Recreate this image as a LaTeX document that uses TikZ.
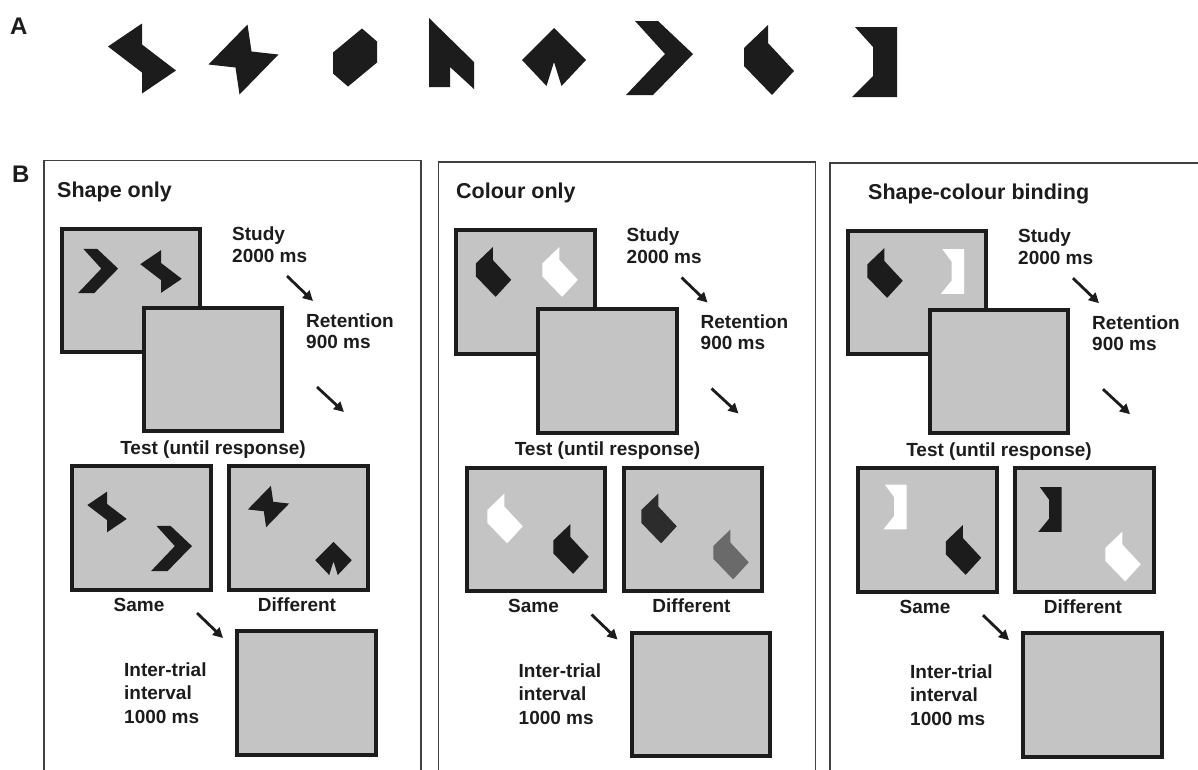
\documentclass[tikz,border=0pt]{standalone}
\usepackage{fontspec}
\setmainfont{Liberation Sans}
\usetikzlibrary{arrows.meta}
\definecolor{ink}{HTML}{1C1C1C}
\definecolor{scr}{HTML}{C4C4C4}
\definecolor{framec}{HTML}{404040}
\definecolor{midg}{HTML}{6A6A6A}
\definecolor{darkg}{HTML}{2C2C2C}
\tikzset{
  screen/.style={draw=ink, fill=scr, line width=4pt, minimum width=138.5pt, minimum height=123.5pt, inner sep=0pt},
  lbl/.style={font=\bfseries\fontsize{19}{23}\selectfont, text=ink, inner sep=0pt},
  ttl/.style={font=\bfseries\fontsize{21.5}{25}\selectfont, text=ink, inner sep=0pt},
  biglbl/.style={font=\bfseries\fontsize{24}{28}\selectfont, text=ink, inner sep=0pt},
  flow/.style={draw=ink, line width=2.8pt, -{Triangle[length=10pt,width=10pt]}},
  panelframe/.style={draw=framec, line width=1.6pt},
  pics/shpA/.style={code={\fill[#1] (-34,-12)--(0,-35)--(0,-14)--(34,12)--(0,35)--(0,14)--cycle;}},
  pics/shpB/.style={code={\fill[#1] (4,-35)--(8,-8)--(35,-5)--(-4,35)--(-8,8)--(-35,5)--cycle;}},
  pics/shpC/.style={code={\fill[#1] (7,-29)--(22,-16)--(22,5)--(-7,29)--(-22,16)--(-22,-5)--cycle;}},
  pics/shpD/.style={code={\fill[#1] (-22.5,-35.5)--(22.5,8.5)--(22.5,35.5)--(-1.5,13.5)--(-1.5,33.5)--(-22.5,33.5)--cycle;}},
  pics/shpE/.style={code={\fill[#1] (0,-29)--(32,3)--(7.5,29)--(0,5)--(-7.5,29)--(-32,3)--cycle;}},
  pics/shpF/.style={code={\fill[#1] (-24.5,-37)--(-1.5,-37)--(33.5,-4)--(-6.5,37)--(-33.5,37)--(5.5,-4)--cycle;}},
  pics/shpG/.style={code={\fill[#1] (-1,-35)--(-1,-17)--(25,11)--(3,35)--(-25,6)--(-25,-12)--cycle;}},
  pics/shpH/.style={code={\fill[#1] (-19.5,-35)--(22.5,-35)--(22.5,35)--(-22.5,35)--(-1.5,14)--(-1.5,-15)--cycle;}},
}
\newcommand\trialpanel[5]{%
\begin{scope}[shift={(#2,#3)}]
  \draw[panelframe] (44,800) -- (44,160.5) -- (421,160.5) -- (421,800);
  \node[ttl, anchor=base west] (#1title) at (#4,197) {#5};
  \node[screen] (#1study) at (131,290.5) {};
  \node[screen] (#1ret) at (213,369.5) {};
  \node[screen] (#1same) at (141.5,528) {};
  \node[screen] (#1diff) at (298.5,528) {};
  \node[screen] (#1iti) at (306.5,693) {};
  \node[lbl, anchor=base west] (#1sta) at (232,240) {Study};
  \node[lbl, anchor=base west] (#1stb) at (232,262) {2000 ms};
  \node[lbl, anchor=base west] (#1rea) at (306,327) {Retention};
  \node[lbl, anchor=base west] (#1reb) at (306,348) {900 ms};
  \node[lbl, anchor=base] (#1test) at (213,454) {Test (until response)};
  \node[lbl, anchor=base] (#1samel) at (139,611) {Same};
  \node[lbl, anchor=base] (#1diffl) at (297,611) {Different};
  \node[lbl, anchor=base west] (#1ita) at (124,676) {Inter-trial};
  \node[lbl, anchor=base west] (#1itb) at (124,699) {interval};
  \node[lbl, anchor=base west] (#1itc) at (124,723) {1000 ms};
  \coordinate (#1aas) at (287,276);  \coordinate (#1aae) at (313,301);
  \coordinate (#1abs) at (317,387);  \coordinate (#1abe) at (344,412);
  \coordinate (#1acs) at (197,613);  \coordinate (#1ace) at (223,638);
  \draw[flow] (#1aas) -- (#1aae);
  \draw[flow] (#1abs) -- (#1abe);
  \draw[flow] (#1acs) -- (#1ace);
\end{scope}}
\begin{document}
\begin{tikzpicture}[x=1pt,y=-1pt]
\useasboundingbox (0,0) rectangle (1198,769);
\clip (0,0) rectangle (1198,769);
\fill[white] (0,0) rectangle (1198,769);
% Part A
\node[biglbl, anchor=base west] (labA) at (10,34) {A};
\pic at (142,58.5) {shpA=ink};
\pic at (243.5,59.5) {shpB=ink};
\pic at (355,57.5) {shpC=ink};
\pic at (451.5,53.5) {shpD=ink};
\pic at (554,57) {shpE=ink};
\pic at (659.5,58) {shpF=ink};
\pic at (769,60) {shpG=ink};
\pic at (874.5,62) {shpH=ink};
% Part B
\node[biglbl, anchor=base west] (labB) at (12,182) {B};
\trialpanel{p}{0}{0}{57}{Shape only}
\trialpanel{q}{394.5}{1.5}{61.5}{Colour only}
\trialpanel{r}{786}{2.2}{82}{Shape-colour binding}
% panel 1 stimuli
\pic[scale=0.6] at (98,271) {shpF=ink};
\pic[scale=0.61] at (161,271.5) {shpA=ink};
\pic[scale=0.58] at (107,512) {shpA=ink};
\pic[scale=0.61] at (171.5,548.5) {shpF=ink};
\pic[scale=0.59] at (268.5,506.5) {shpB=ink};
\pic[scale=0.57] at (333.5,558.5) {shpE=ink};
% panel 2 stimuli
\pic[scale=0.71] at (493.5,272) {shpG=ink};
\pic[scale=0.71] at (560,272) {shpG=white};
\pic[scale=0.71] at (505,518.5) {shpG=white};
\pic[scale=0.71] at (571,549) {shpG=ink};
\pic[scale=0.71] at (659,518.5) {shpG=darkg};
\pic[scale=0.71] at (731,554.5) {shpG=midg};
% panel 3 stimuli
\pic[scale=0.71] at (885,273) {shpG=ink};
\pic[xscale=0.52,yscale=0.64] at (952.5,271.5) {shpH=white};
\pic[xscale=0.52,yscale=0.64] at (895,507) {shpH=white};
\pic[scale=0.71] at (963.5,550) {shpG=ink};
\pic[xscale=0.52,yscale=0.64] at (1050,509.5) {shpH=ink};
\pic[scale=0.71] at (1123,556.5) {shpG=white};
\end{tikzpicture}
\end{document}
